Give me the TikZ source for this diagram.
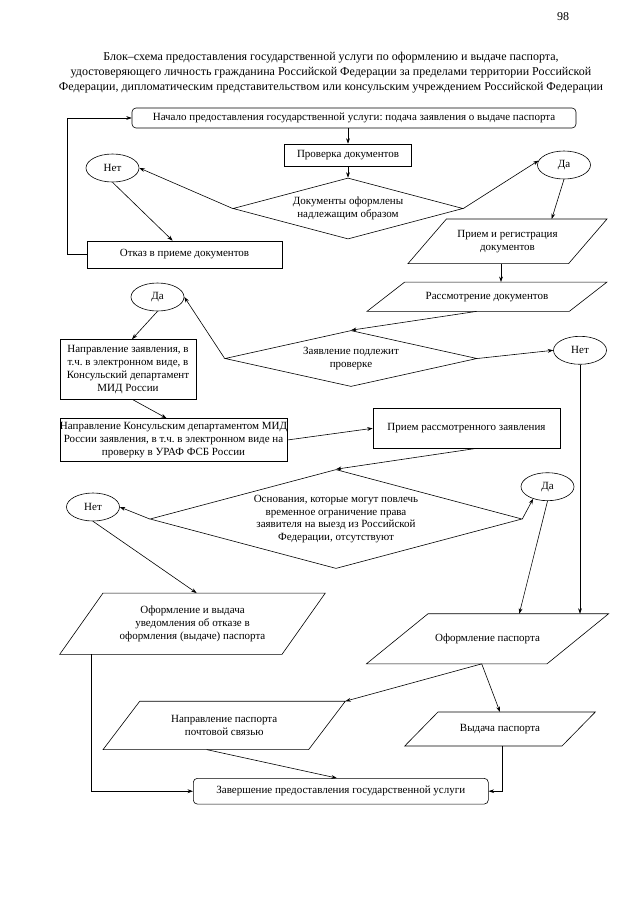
\documentclass[tikz,border=0pt]{standalone}
\usepackage{fontspec}
\setmainfont{Liberation Serif}
\usetikzlibrary{shapes.geometric,arrows.meta}
\frenchspacing

\begin{document}
\begin{tikzpicture}[x=1pt,y=-1pt,
		font=\fontsize{11}{12.8}\selectfont,
		line width=0.6pt, >={Stealth[length=5.5pt,width=3.8pt]},
		box/.style={draw,rectangle,inner sep=0pt,align=center},
		term/.style={box,rounded corners=4pt},
		io/.style={rectangle,inner sep=0pt,align=center},
		cond/.style={draw,diamond,inner sep=0pt,align=center},
		ans/.style={draw,ellipse,inner sep=0pt,minimum width=53pt,minimum height=28pt}]
		\useasboundingbox (0,0) rectangle (640,905);
		\node (page) at (563,17) {\fontsize{12}{14}\selectfont 98};
		\node[align=center,font=\fontsize{12}{15}\selectfont] (title) at (331,73)
			{Блок–схема предоставления государственной услуги по оформлению и выдаче паспорта,\\
			удостоверяющего личность гражданина Российской Федерации за пределами территории Российской\\
			Федерации, дипломатическим представительством или консульским учреждением Российской Федерации};
		% first check
		\node[term,minimum width=444pt,minimum height=20pt] (start) at (354,118) {Начало предоставления государственной услуги: подача заявления о выдаче паспорта};
		\node[box,minimum width=127pt,minimum height=22pt] (check) at (348,155) {Проверка документов};
		\node[cond,aspect=3.77,minimum width=230pt,minimum height=61pt] (d1) at (348,208.5) {Документы оформлены\\надлежащим образом};
		\node[ans] (no1) at (112.5,168) {Нет};
		\node[ans] (yes1) at (564,165) {Да};
		\node[box,minimum width=195pt,minimum height=27pt] (refuse) at (184.5,254.5) {Отказ в приеме документов};
		\node[io,minimum width=160pt,minimum height=44pt] (reg) at (507.5,241.3) {Прием и регистрация\\документов};
		\node[io,minimum width=201.7pt,minimum height=28.7pt] (review) at (487,296.7) {Рассмотрение документов};
		% second check
		\node[cond,aspect=4.5,minimum width=252pt,minimum height=56pt] (d2) at (351,358.5) {Заявление подлежит\\проверке};
		\node[ans] (yes2) at (157.5,297) {Да};
		\node[ans] (no2) at (580,350.3) {Нет};
		\node[box,minimum width=136pt,minimum height=60pt] (send1) at (128,369.5) {Направление заявления, в\\т.ч. в электронном виде, в\\Консульский департамент\\МИД России};
		\node[box,minimum width=224pt,minimum height=43pt] (send2) at (173.5,440) {Направление Консульским департаментом МИД\\России заявления, в т.ч. в электронном виде на\\проверку в УРАФ ФСБ России};
		\node[box,minimum width=187pt,minimum height=39.5pt] (recv) at (466.5,428.3) {Прием рассмотренного заявления};
		% third check
		\node[cond,aspect=3.76,minimum width=372pt,minimum height=99pt] (d3) at (336,519) {Основания, которые могут повлечь\\временное ограничение права\\заявителя на выезд из Российской\\Федерации, отсутствуют};
		\node[ans] (no3) at (93,507) {Нет};
		\node[ans] (yes3) at (547.5,486.7) {Да};
		\node[io,minimum width=221.7pt,minimum height=60.7pt] (refusal) at (192.5,623.7) {Оформление и выдача\\уведомления об отказе в\\оформления (выдаче) паспорта};
		\node[io,minimum width=180pt,minimum height=49.5pt] (issue) at (487.5,638.8) {Оформление паспорта};
		\node[io,minimum width=205pt,minimum height=47.8pt] (post) at (224.2,725.4) {Направление паспорта\\почтовой связью};
		\node[io,minimum width=156.7pt,minimum height=33.4pt] (hand) at (500,729) {Выдача паспорта};
		\node[term,minimum width=295pt,minimum height=25.7pt] (finish) at (340.8,791.2) {Завершение предоставления государственной услуги};
		% slanted outlines
		\foreach \n/\s in {reg/19.2,review/18.85,refusal/21.65,issue/30.8,post/18.35,hand/16.65}
			\draw ([xshift=\s]\n.north west) -- ([xshift=\s]\n.north east) -- ([xshift=-\s]\n.south east) -- ([xshift=-\s]\n.south west) -- cycle;
		% connectors
		\draw[->] (start.south -| check.north) -- (check.north);
		\draw[->] (check.south) -- (d1.north);
		\draw[->] (d1.west) -- (no1.east);
		\draw[->] (no1.south) -- ([xshift=86pt]refuse.north west);
		\draw[->] (refuse.west) -- ++(-19,0) |- (start.west);
		\draw[->] (d1.east) -- (yes1.170);
		\draw[->] (yes1.south) -- ([xshift=44.2pt]reg.north);
		\draw[->] ([xshift=-6.5pt]reg.south) -- ([xshift=14pt]review.north);
		\draw[->] ([xshift=-10.3pt]review.south) -- (d2.north);
		\draw[->] (d2.west) -- (yes2.east);
		\draw[->] (d2.east) -- (no2.west);
		\draw[->] (yes2.south) -- ([xshift=4pt]send1.north);
		\draw[->] ([xshift=5pt]send1.south) -- ([xshift=-7pt]send2.north);
		\draw[->] (send2.east) -- (recv.west);
		\draw[->] ([xshift=10pt]recv.south) -- (d3.north);
		\draw[->] (no2.south) -- (no2.south |- issue.north);
		\draw[->] (d3.west) -- (no3.east);
		\draw[->] (no3.south) -- ([xshift=4.2pt]refusal.north);
		\draw[->] (d3.east) -- (yes3.220);
		\draw[->] (yes3.south) -- ([xshift=31.8pt]issue.north);
		\draw[->] ([xshift=-5.8pt]issue.south) -- ([xshift=18.35pt]post.north east);
		\draw[->] ([xshift=-5.8pt]issue.south) -- (hand.north);
		\draw[->] ([xshift=2pt]hand.south) |- (finish.east);
		\draw[->] ([xshift=-17.5pt]post.south) -- ([xshift=-4pt]finish.north);
		\draw[->] ([xshift=-100.8pt]refusal.south) |- (finish.west);
\end{tikzpicture}
\end{document}
